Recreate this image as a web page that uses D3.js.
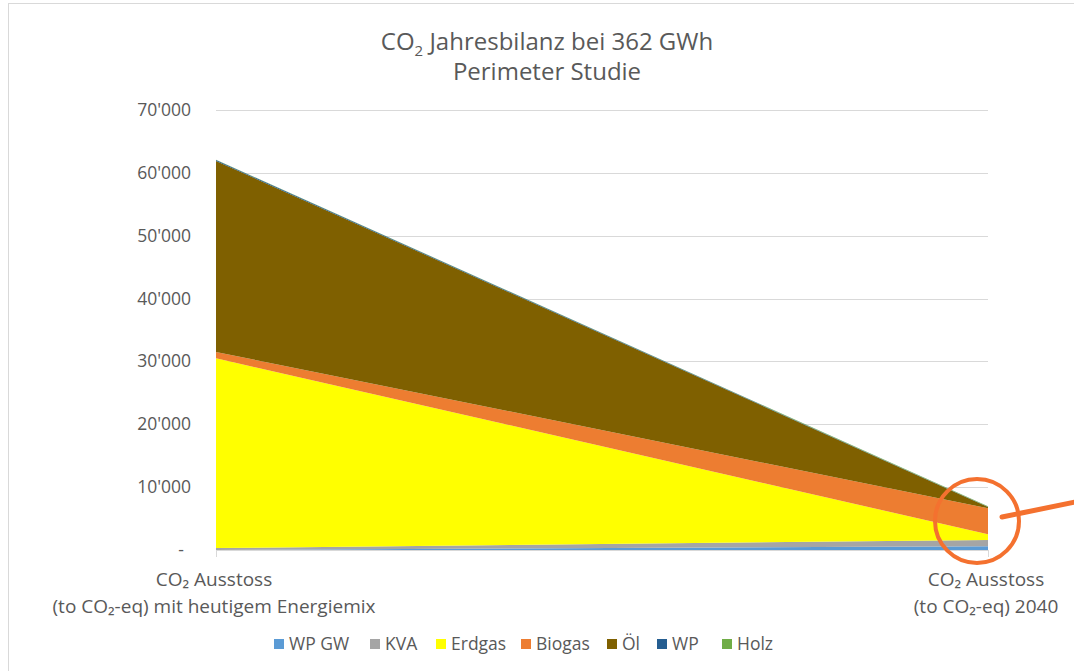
<!DOCTYPE html>
<html>
<head>
<meta charset="utf-8">
<script src="https://cdn.jsdelivr.net/npm/d3@7"></script>
<style>
  body { margin: 0; background: #fff; }
  text { font-family: "Open Sans", "Noto Sans", sans-serif; fill: #595959; }
</style>
</head>
<body>
<div id="my_dataviz"></div>
<script>
var width = 1074
var height = 671

// categories (two points on the x axis), each label has two lines
var categories = ["heute", "2040"]
var catLines = [["CO₂ Ausstoss", "(to CO₂-eq) mit heutigem Energiemix"],
                ["CO₂ Ausstoss", "(to CO₂-eq) 2040"]]

// series values in to CO2-eq, stacked bottom to top
var seriesNames = ["WP GW", "KVA", "Erdgas", "Biogas", "Öl", "WP", "Holz"]
var wpGW   = [0, 600]
var kva    = [300, 1000]
var erdgas = [30200, 900]
var biogas = [1000, 4150]
var oel    = [30400, 200]
var wp     = [150, 50]
var holz   = [30, 60]

var yTicks = [0, 10000, 20000, 30000, 40000, 50000, 60000, 70000]
var yTickLabels = ["-", "10'000", "20'000", "30'000", "40'000", "50'000", "60'000", "70'000"]

var colorCodes = ["#5b9bd5", "#a5a5a5", "#ffff00", "#ed7d31", "#7f6000", "#255e91", "#70ad47"]

var svg = d3.select("#my_dataviz")
    .append("svg")
    .attr("width", width)
    .attr("height", height)

// chart frame
svg.append("rect")
    .attr("x", 8.5).attr("y", 3.5)
    .attr("width", 1100).attr("height", 700)
    .attr("fill", "white")
    .attr("stroke", "#d9d9d9")
    .attr("stroke-width", 1)

var x = d3.scalePoint()
    .domain(categories)
    .range([216, 988])

var y = d3.scaleLinear()
    .domain([0, 70000])
    .range([550, 110])

var color = d3.scaleOrdinal()
    .domain(seriesNames)
    .range(colorCodes)

// build table for the stack layout
var allSeries = [wpGW, kva, erdgas, biogas, oel, wp, holz]
var table = categories.map(function(c, i) {
    var row = {cat: c}
    seriesNames.forEach(function(s, j) { row[s] = allSeries[j][i] })
    return row
})
var stacked = d3.stack().keys(seriesNames)(table)

// gridlines
svg.append("g")
    .selectAll("line")
    .data(yTicks.slice(1))
    .enter()
    .append("line")
    .attr("x1", 216).attr("x2", 988)
    .attr("y1", function(d) { return Math.round(y(d)) + 0.5 })
    .attr("y2", function(d) { return Math.round(y(d)) + 0.5 })
    .attr("stroke", "#d9d9d9")
    .attr("stroke-width", 1)

// y labels
svg.append("g")
    .selectAll("text")
    .data(yTicks)
    .enter()
    .append("text")
    .attr("x", function(d, i) { return i == 0 ? 184 : 191 })
    .attr("y", function(d) { return y(d) + 6 })
    .attr("text-anchor", "end")
    .style("font-size", "17.5px")
    .text(function(d, i) { return yTickLabels[i] })

// areas
var area = d3.area()
    .x(function(d) { return x(d.data.cat) })
    .y0(function(d) { return y(d[0]) })
    .y1(function(d) { return y(d[1]) })

svg.append("g")
    .selectAll("path")
    .data(stacked)
    .enter()
    .append("path")
    .attr("d", area)
    .attr("fill", function(d) { return color(d.key) })

// x axis line and ticks
svg.append("line")
    .attr("x1", 216).attr("x2", 988)
    .attr("y1", 550.5).attr("y2", 550.5)
    .attr("stroke", "#d9d9d9")
svg.append("g")
    .selectAll("line")
    .data(categories)
    .enter()
    .append("line")
    .attr("x1", function(d) { return x(d) + 0.5 })
    .attr("x2", function(d) { return x(d) + 0.5 })
    .attr("y1", 550).attr("y2", 557)
    .attr("stroke", "#d9d9d9")

// category labels
var catG = svg.append("g")
    .selectAll("text")
    .data(categories)
    .enter()
    .append("text")
    .attr("text-anchor", "middle")
    .style("font-size", "19px")
catG.append("tspan")
    .attr("x", function(d) { return x(d) - 2 })
    .attr("y", 586)
    .text(function(d, i) { return catLines[i][0] })
catG.append("tspan")
    .attr("x", function(d) { return x(d) - 2 })
    .attr("y", 613)
    .text(function(d, i) { return catLines[i][1] })

// title
var t1 = svg.append("text")
    .attr("x", 547).attr("y", 50)
    .attr("text-anchor", "middle")
    .style("font-size", "24px")
t1.append("tspan").text("CO")
t1.append("tspan").attr("dy", 6).style("font-size", "15px").text("2")
t1.append("tspan").attr("dy", -6).text(" Jahresbilanz bei 362 GWh")
svg.append("text")
    .attr("x", 547).attr("y", 80)
    .attr("text-anchor", "middle")
    .style("font-size", "24px")
    .text("Perimeter Studie")

// legend
var legendX = [274, 370, 436, 521, 607, 657, 722]
var leg = svg.append("g")
    .selectAll("g")
    .data(seriesNames)
    .enter()
    .append("g")
    .attr("transform", function(d, i) { return "translate(" + legendX[i] + ",639)" })
leg.append("rect")
    .attr("width", 10).attr("height", 10)
    .attr("fill", function(d) { return color(d) })
leg.append("text")
    .attr("x", 15).attr("y", 11)
    .style("font-size", "17.5px")
    .text(function(d) { return d })

// annotation circle and pointer
svg.append("circle")
    .attr("cx", 977).attr("cy", 521).attr("r", 42)
    .attr("fill", "none")
    .attr("stroke", "#f4712f")
    .attr("stroke-width", 4)
svg.append("line")
    .attr("x1", 1002).attr("y1", 517)
    .attr("x2", 1080).attr("y2", 501)
    .attr("stroke", "#f4712f")
    .attr("stroke-width", 5)
    .attr("stroke-linecap", "round")
</script>
</body>
</html>
